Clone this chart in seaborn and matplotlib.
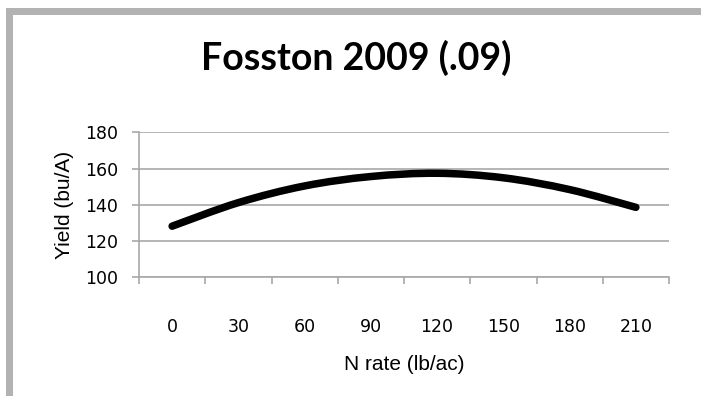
import matplotlib
matplotlib.use("Agg")
import matplotlib.pyplot as plt
import seaborn as sns
import pandas as pd
import numpy as np
from matplotlib.patches import Rectangle, PathPatch
from matplotlib.path import Path

n_rate = ["0", "30", "60", "90", "120", "150", "180", "210"]
yield_bu = [128.2, 141.2, 150.4, 155.6, 157.4, 154.9, 148.4, 138.6]
y_ticks = [100, 120, 140, 160, 180]

sns.set_theme(style="white")
plt.rcParams["font.family"] = ["DejaVu Sans"]

W, H = 701, 396
fig = plt.figure(figsize=(W / 100, H / 100), dpi=100)
fig.patch.set_facecolor("white")

# outer gray chart frame (cropped at right/bottom)
fig.patches.append(Rectangle((8.5 / W, -0.2), 2.0, 1.2 - 10.5 / H,
                             transform=fig.transFigure, fill=False,
                             edgecolor="#b2b2b2", linewidth=7 * 0.72,
                             clip_on=False))

left, right = 139 / W, 669 / W
top, bottom = 1 - 132.3 / H, 1 - 277.3 / H
ax = fig.add_axes([left, bottom, right - left, top - bottom])
ax.set_facecolor("white")

df = pd.DataFrame({"N": n_rate, "Yield": yield_bu})
sns.lineplot(data=df, x="N", y="Yield", ax=ax, color="black",
             linewidth=5.4, solid_capstyle="round", solid_joinstyle="round")

# Excel-style "smoothed line": render the seaborn line's own vertices
# as a Catmull-Rom Bezier path in data coordinates
line = ax.lines[0]
pts = np.asarray(line.get_xydata(), dtype=float)
verts = [tuple(pts[0])]
codes = [Path.MOVETO]
n = len(pts)
for i in range(n - 1):
    p0 = pts[i - 1] if i > 0 else pts[i]
    p1, p2 = pts[i], pts[i + 1]
    p3 = pts[i + 2] if i + 2 < n else pts[i + 1]
    c1 = p1 + (p2 - p0) / 6.0
    c2 = p2 - (p3 - p1) / 6.0
    verts += [tuple(c1), tuple(c2), tuple(p2)]
    codes += [Path.CURVE4] * 3
patch = PathPatch(Path(verts, codes), facecolor="none", edgecolor="black",
                  linewidth=5.4, capstyle="round", joinstyle="round",
                  transform=ax.transData, zorder=line.get_zorder())
line.set_visible(False)
ax.add_patch(patch)

grid_c = "#a8a8a8"
ax.set_xlim(-0.5, len(n_rate) - 0.5)
ax.set_ylim(100, 180)
ax.set_yticks(y_ticks)
ax.yaxis.grid(True, color=grid_c, linewidth=1.2)
ax.xaxis.grid(False)
ax.set_axisbelow(True)

for s in ["top", "right"]:
    ax.spines[s].set_visible(False)
for s in ["left", "bottom"]:
    ax.spines[s].set_color(grid_c)
    ax.spines[s].set_linewidth(1.2)

# x: labels at category centers, tick marks at boundaries
ax.set_xticks(range(len(n_rate)))
ax.set_xticklabels(n_rate)
ax.set_xticks([i - 0.5 for i in range(len(n_rate) + 1)], minor=True)
ax.tick_params(axis="x", which="major", length=0, pad=29, labelsize=12.5,
               labelcolor="black")
ax.tick_params(axis="x", which="minor", length=5, width=1.2, color=grid_c,
               bottom=True, direction="out")
ax.tick_params(axis="y", which="major", length=5, width=1.2, color=grid_c,
               left=True, direction="out", pad=10, labelsize=12.5,
               labelcolor="black")

ax.set_xlabel("N rate (lb/ac)", fontsize=15, family=["Liberation Sans"],
              labelpad=14, color="black")
ax.set_ylabel("Yield (bu/A)", fontsize=15, family=["Liberation Sans"],
              labelpad=8, color="black")

fig.text(356 / W, 1 - 58 / H, "Fosston 2009 (.09)", ha="center", va="center",
         fontsize=27, fontweight="bold", family=["Lato", "DejaVu Sans"],
         color="black")

fig.savefig("out.png", dpi=100, facecolor="white")
